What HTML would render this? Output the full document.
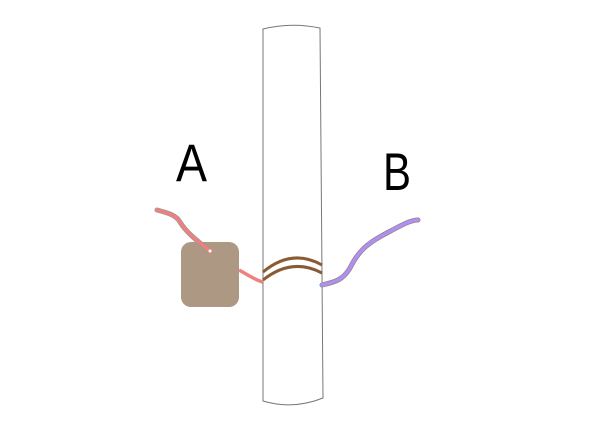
<!DOCTYPE html>
<html><head><style>html,body{margin:0;padding:0;background:#fff;width:600px;height:430px;overflow:hidden}</style></head>
<body>
<svg width="600" height="430" viewBox="0 0 600 430" xmlns="http://www.w3.org/2000/svg">
<path d="M263,29 Q291,22 320,28 L323,398 Q293,410 263,401 Z" fill="#fff" stroke="#777" stroke-width="1"/>
<rect x="181" y="242" width="58" height="65" rx="10" fill="#ad9883"/>
<path d="M157,210 C168,213 176,215 180,222 C186,232 196,240 210,251" fill="none" stroke="#999" stroke-width="5" stroke-linecap="round"/>
<path d="M157,210 C168,213 176,215 180,222 C186,232 196,240 210,251" fill="none" stroke="#f08080" stroke-width="3.5" stroke-linecap="round"/>
<circle cx="210" cy="251" r="2" fill="#fff" stroke="#f08080" stroke-width="1"/>
<path d="M239,270 C248,275 255,280 263,282" fill="none" stroke="#f08080" stroke-width="3.5"/>
<path d="M263,272 Q292,248 322,265" fill="none" stroke="#8a5a33" stroke-width="3"/>
<path d="M263,280 Q292,257 322,273" fill="none" stroke="#8a5a33" stroke-width="3"/>
<path d="M322,285 C335,282 343,280 350,268 C358,252 366,244 385,234 C400,226 410,220 418,220" fill="none" stroke="#888" stroke-width="5" stroke-linecap="round"/>
<path d="M322,285 C335,282 343,280 350,268 C358,252 366,244 385,234 C400,226 410,220 418,220" fill="none" stroke="#b38ef0" stroke-width="3.5" stroke-linecap="round"/>
<text x="176" y="181" font-family="Liberation Sans, sans-serif" font-size="53" fill="#000" textLength="31" lengthAdjust="spacingAndGlyphs">A</text>
<text x="383" y="190" font-family="Liberation Sans, sans-serif" font-size="53" fill="#000" textLength="28" lengthAdjust="spacingAndGlyphs">B</text>
</svg>
</body></html>
